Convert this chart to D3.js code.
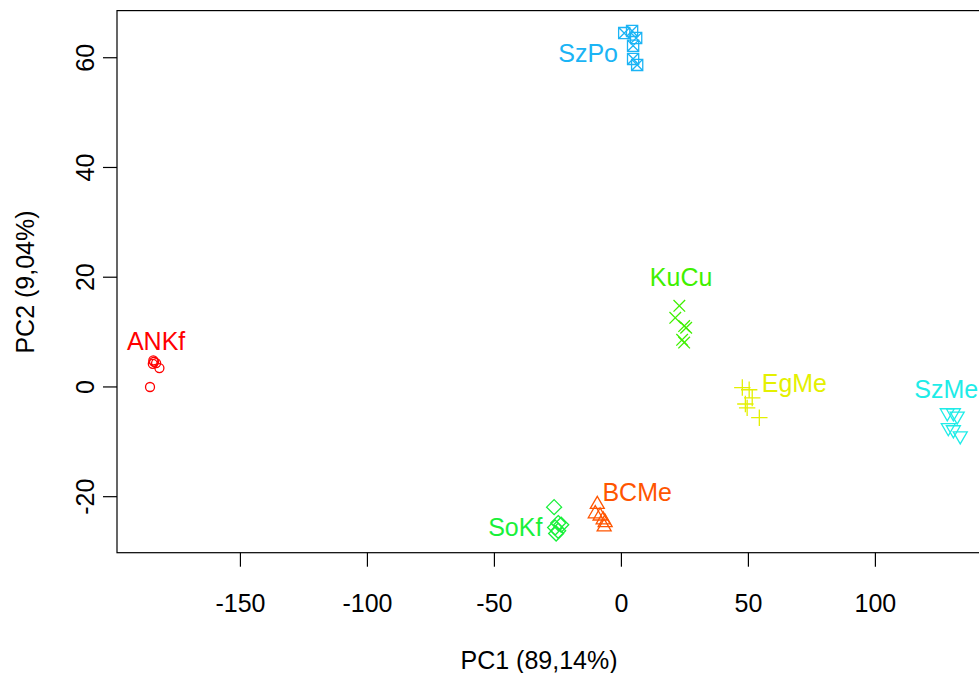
<!DOCTYPE html>
<html>
<head>
<meta charset="utf-8">
<script src="https://cdn.jsdelivr.net/npm/d3@7"></script>
<style>
  html, body { margin: 0; padding: 0; background: #ffffff; }
  svg { display: block; font-family: "Liberation Sans", Arial, Helvetica, sans-serif; }
</style>
</head>
<body>
<svg id="chart" width="979" height="673"></svg>
<script>
// Sample groups, their colours and plotting symbols
const groups = ["ANKf", "BCMe", "EgMe", "KuCu", "SoKf", "SzMe", "SzPo"];
const groupColors = ["#ff0000", "#ff5500", "#e4f000", "#3ff000", "#18f03a", "#1eece8", "#1bb4f5"];
const groupSymbols = ["circle", "triangleUp", "plus", "cross", "diamond", "triangleDown", "squareCross"];

// PC scores per group (PC1, PC2)
const pc1ANKf = [-184.1, -184.3, -183.0, -181.7, -185.4, -183.8];
const pc2ANKf = [4.74, 4.13, 4.26, 3.35, -0.1, 4.5];
const pc1BCMe = [-9.3, -10.1, -8.2, -7.0, -6.2, -6.6];
const pc2BCMe = [-21.5, -23.2, -23.6, -24.3, -24.8, -25.6];
const pc1EgMe = [47.8, 50.5, 51.7, 49.0, 49.7, 54.5];
const pc2EgMe = [-0.2, -0.6, -2.1, -3.2, -3.9, -5.7];
const pc1KuCu = [23.0, 21.4, 24.9, 25.7, 24.1, 24.9];
const pc2KuCu = [14.7, 12.5, 11.0, 10.7, 8.5, 8.0];
const pc1SoKf = [-26.3, -24.7, -23.5, -25.9, -24.7, -25.5];
const pc2SoKf = [-22.0, -24.9, -25.2, -25.7, -26.3, -26.8];
const pc1SzMe = [128.5, 130.9, 132.4, 128.9, 130.9, 133.6];
const pc2SzMe = [-4.8, -4.8, -5.4, -7.5, -7.9, -9.0];
const pc1SzPo = [1.3, 4.4, 6.0, 4.8, 4.8, 6.4];
const pc2SzPo = [64.4, 64.8, 63.5, 62.1, 59.7, 58.6];

const pc1ByGroup = [pc1ANKf, pc1BCMe, pc1EgMe, pc1KuCu, pc1SoKf, pc1SzMe, pc1SzPo];
const pc2ByGroup = [pc2ANKf, pc2BCMe, pc2EgMe, pc2KuCu, pc2SoKf, pc2SzMe, pc2SzPo];

// Group label anchors in PC units
const labelPC1 = [-183.0, 6.4, 68.3, 23.7, -41.6, 128.1, -12.9];
const labelPC2 = [8.3, -19.2, 0.7, 20.0, -25.6, -0.4, 60.8];

// Axis ticks and titles
const xTicks = [-150, -100, -50, 0, 50, 100];
const yTicks = [-20, 0, 20, 40, 60];
const xTitle = "PC1 (89,14%)";
const yTitle = "PC2 (9,04%)";

const svg = d3.select("#chart");
const W = 979, H = 673;
const plot = { left: 117, right: 993, top: 10.6, bottom: 552.7 };
const fontSize = 25;

svg.append("rect").attr("width", W).attr("height", H).attr("fill", "#ffffff");

const x = d3.scaleLinear().domain([-198.4, 146.5]).range([plot.left, plot.right]);
const y = d3.scaleLinear().domain([-30.3, 68.5]).range([plot.bottom, plot.top]);

// Tick labels with a plain hyphen for negatives
const tickText = d => String(d);

// Symbol outlines, centred on (0,0)
function symbolPath(type) {
  const p = d3.path();
  switch (type) {
    case "circle": {
      const r = 4.5;
      p.moveTo(r, 0); p.arc(0, 0, r, 0, 2 * Math.PI); p.closePath();
      break;
    }
    case "triangleUp": {
      const xc = 7, r = 8.1, yc = 4.05;
      p.moveTo(0, -r); p.lineTo(xc, yc); p.lineTo(-xc, yc); p.closePath();
      break;
    }
    case "triangleDown": {
      const xc = 7, r = 8.1, yc = 4.05;
      p.moveTo(0, r); p.lineTo(xc, -yc); p.lineTo(-xc, -yc); p.closePath();
      break;
    }
    case "diamond": {
      const d = 7.5;
      p.moveTo(0, -d); p.lineTo(d, 0); p.lineTo(0, d); p.lineTo(-d, 0); p.closePath();
      break;
    }
    case "plus": {
      const d = 8.2;
      p.moveTo(-d, 0); p.lineTo(d, 0); p.moveTo(0, -d); p.lineTo(0, d);
      break;
    }
    case "cross": {
      const d = 5.8;
      p.moveTo(-d, -d); p.lineTo(d, d); p.moveTo(-d, d); p.lineTo(d, -d);
      break;
    }
    case "squareCross": {
      const s = 5.6;
      p.rect(-s, -s, 2 * s, 2 * s);
      p.moveTo(-s, -s); p.lineTo(s, s); p.moveTo(-s, s); p.lineTo(s, -s);
      break;
    }
  }
  return p.toString();
}

// Clip marks to the plotting region
svg.append("clipPath").attr("id", "plotClip")
  .append("rect")
  .attr("x", plot.left).attr("y", plot.top)
  .attr("width", plot.right - plot.left).attr("height", plot.bottom - plot.top);

const marks = svg.append("g").attr("clip-path", "url(#plotClip)");

groups.forEach((g, gi) => {
  const pts = pc1ByGroup[gi].map((v, i) => ({ pc1: v, pc2: pc2ByGroup[gi][i] }));
  marks.append("g")
    .selectAll("path")
    .data(pts)
    .join("path")
    .attr("transform", d => `translate(${x(d.pc1)},${y(d.pc2)})`)
    .attr("d", symbolPath(groupSymbols[gi]))
    .attr("fill", "none")
    .attr("stroke", groupColors[gi])
    .attr("stroke-width", 1.3);
});

// Group labels
marks.append("g")
  .selectAll("text")
  .data(groups)
  .join("text")
  .attr("x", (d, i) => x(labelPC1[i]))
  .attr("y", (d, i) => y(labelPC2[i]))
  .attr("dy", "0.36em")
  .attr("text-anchor", "middle")
  .attr("font-size", fontSize)
  .attr("fill", (d, i) => groupColors[i])
  .text(d => d);

// Plot box
svg.append("rect")
  .attr("x", plot.left).attr("y", plot.top)
  .attr("width", plot.right - plot.left).attr("height", plot.bottom - plot.top)
  .attr("fill", "none").attr("stroke", "#000000").attr("stroke-width", 1.2);

// Bottom axis
const xAxis = svg.append("g")
  .attr("transform", `translate(0,${plot.bottom})`)
  .call(d3.axisBottom(x).tickValues(xTicks).tickSize(14).tickSizeOuter(0).tickPadding(28)
    .tickFormat(tickText));
xAxis.select(".domain").remove();
xAxis.selectAll("line").attr("stroke", "#000000").attr("stroke-width", 1.2);
xAxis.selectAll("text").attr("font-size", fontSize).attr("font-family", null).attr("fill", "#000000");

// Left axis with vertical labels
const yAxis = svg.append("g")
  .attr("transform", `translate(${plot.left},0)`)
  .call(d3.axisLeft(y).tickValues(yTicks).tickSize(14).tickSizeOuter(0).tickFormat(tickText));
yAxis.select(".domain").remove();
yAxis.selectAll("line").attr("stroke", "#000000").attr("stroke-width", 1.2);
yAxis.selectAll("text")
  .attr("font-size", fontSize).attr("font-family", null).attr("fill", "#000000")
  .attr("text-anchor", "middle")
  .attr("transform", "rotate(-90)")
  .attr("x", 0)
  .attr("y", -32)
  .attr("dy", "0.36em");

// Axis titles
svg.append("text")
  .attr("x", 539).attr("y", 660).attr("dy", "0.36em")
  .attr("text-anchor", "middle").attr("font-size", fontSize).attr("fill", "#000000")
  .text(xTitle);

svg.append("text")
  .attr("transform", "translate(25,282) rotate(-90)")
  .attr("dy", "0.36em")
  .attr("text-anchor", "middle").attr("font-size", fontSize).attr("fill", "#000000")
  .text(yTitle);
</script>
</body>
</html>
